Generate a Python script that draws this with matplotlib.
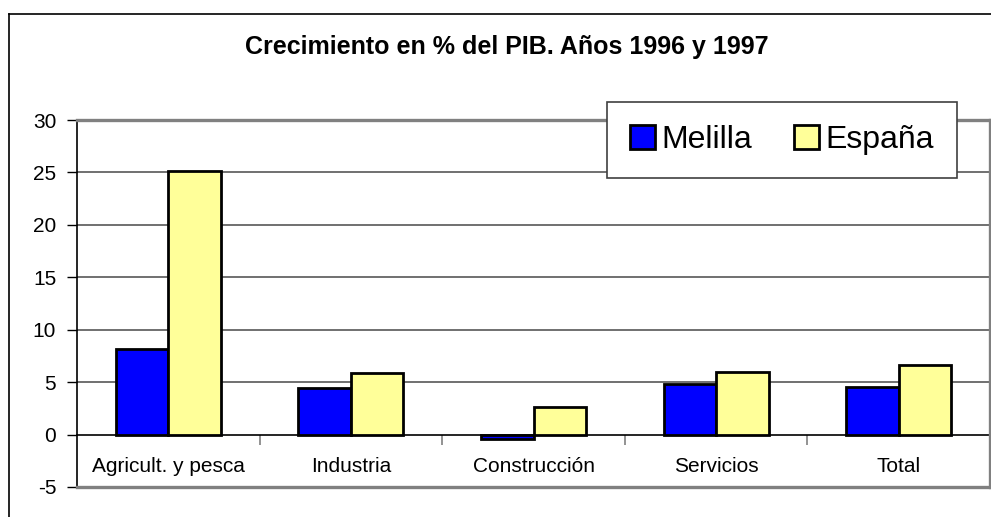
import matplotlib
matplotlib.use("Agg")
import matplotlib.pyplot as plt
import numpy as np
from matplotlib.lines import Line2D

plt.rcParams["font.family"] = ["Liberation Sans", "DejaVu Sans"]
plt.rcParams["axes.unicode_minus"] = False

# Valores
categorias = ["Agricult. y pesca", "Industria", "Construcción", "Servicios", "Total"]
melilla = [8.2, 4.4, -0.4, 4.8, 4.5]
espana = [25.1, 5.9, 2.6, 6.0, 6.6]
series = ["Melilla", "España"]
yticks = [-5, 0, 5, 10, 15, 20, 25, 30]

W, H = 991, 517
fig = plt.figure(figsize=(W / 100, H / 100), dpi=100)

# plot area in pixel coordinates of the reference
left, right, top, bottom = 77, 990, 120, 487
ax = fig.add_axes([left / W, 1 - bottom / H, (right - left) / W, (bottom - top) / H])

x = np.arange(len(categorias))
w = 0.288
ax.bar(x - w / 2, melilla, w, color="#0000FF", edgecolor="black", lw=2,
       label=series[0], zorder=3)
ax.bar(x + w / 2, espana, w, color="#FFFF99", edgecolor="black", lw=2,
       label=series[1], zorder=3)

ax.set_xlim(-0.5, len(categorias) - 0.5)
ax.set_ylim(-5, 30)
ax.set_yticks(yticks)
ax.tick_params(axis="y", direction="out", length=7, width=1, labelsize=15,
               pad=8, color="black")
for y in yticks:
    if y not in (-5, 0, 30):
        ax.axhline(y, color="#707070", lw=1.4, zorder=1)

# category axis sits on zero
for s in ["top", "right"]:
    ax.spines[s].set_visible(False)
ax.spines["bottom"].set_position(("data", 0))
ax.spines["bottom"].set_color("black")
ax.spines["bottom"].set_linewidth(1.2)
ax.spines["left"].set_color("black")
ax.spines["left"].set_linewidth(1.2)
ax.set_xticks(x)
ax.set_xticklabels(categorias)
ax.set_xticks(np.arange(0.5, len(categorias) - 0.5), minor=True)
ax.tick_params(axis="x", which="major", length=0, labelsize=15, pad=16)
ax.tick_params(axis="x", which="minor", direction="out", length=7,
               color="#808080", width=1.2)

# gray frame of plot area (top, right, bottom)
for xs, ys in [([0, 1], [1, 1]), ([1, 1], [0, 1]), ([0, 1], [0, 0])]:
    ax.plot(xs, ys, transform=ax.transAxes, color="#808080", lw=2.4,
            clip_on=False, zorder=5)

# outer chart frame
fig.add_artist(Line2D([9 / W, 1.01], [1 - 14 / H] * 2, transform=fig.transFigure,
                      color="black", lw=1.2))
fig.add_artist(Line2D([9 / W] * 2, [-0.01, 1 - 14 / H], transform=fig.transFigure,
                      color="black", lw=1.2))

fig.text(507 / W, 1 - 47 / H, "Crecimiento en % del PIB. Años 1996 y 1997",
         ha="center", va="center", fontsize=18, fontweight="bold")

leg = ax.legend(loc="center", bbox_to_anchor=(782 / W, 1 - 140 / H),
                bbox_transform=fig.transFigure, ncol=2, fontsize=23,
                frameon=True, fancybox=False, framealpha=1, edgecolor="#404040",
                handlelength=0.8, handleheight=0.8, handletextpad=0.2,
                columnspacing=1.3, borderpad=0.7)
leg.get_frame().set_linewidth(1.2)
leg.set_zorder(10)

fig.savefig("out.png", dpi=100)
